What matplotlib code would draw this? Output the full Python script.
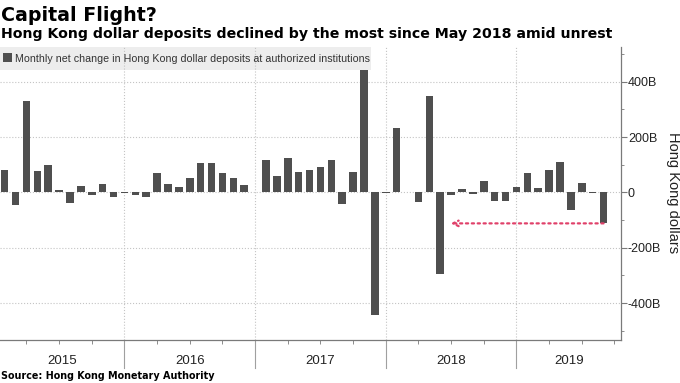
import numpy as np
import matplotlib.pyplot as plt
from matplotlib.ticker import FuncFormatter, MultipleLocator, FixedLocator
from matplotlib.patches import Rectangle

# monthly net change, HK$ billions, Jan 2015 .. Aug 2019
years = ['2015', '2016', '2017', '2018', '2019']
change_2015 = [81, -46, 330, 78, 98, 8, -40, 23, -11, 31, -16, -1]
change_2016 = [-8, -16, 71, 31, 19, 52, 108, 108, 71, 51, 27, 2]
change_2017 = [117, 60, 123, 73, 81, 92, 117, -42, 73, 442, -445, -1]
change_2018 = [234, 2, -34, 348, -296, -10, 14, -6, 43, -31, -31, 19]
change_2019 = [72, 16, 81, 111, -64, 33, -2, -112]
change_bn = change_2015 + change_2016 + change_2017 + change_2018 + change_2019

legend_txt = "Monthly net change in Hong Kong dollar deposits at authorized institutions"

x = np.arange(len(change_bn))
grey = '#4f4f4f'
axcol = '#7a7a7a'
plt.rcParams['font.family'] = ['Liberation Sans', 'DejaVu Sans']

fig = plt.figure(figsize=(6.8, 3.83), dpi=100)
ax = fig.add_axes([0, 43.5/383, 621/680, 292.8/383])

ax.bar(x, change_bn, width=0.69, color=grey, zorder=3)
ax.set_xlim(-0.43, 56.6)
ax.set_ylim(-532, 527)

for s in ['top', 'left']:
	ax.spines[s].set_visible(False)
for s in ['right', 'bottom']:
	ax.spines[s].set_color(axcol)
	ax.spines[s].set_linewidth(0.9)

# y axis on the right
ax.yaxis.tick_right()
ax.set_yticks([-400, -200, 0, 200, 400])
ax.yaxis.set_minor_locator(MultipleLocator(100))
ax.yaxis.set_major_formatter(FuncFormatter(lambda v, p: '0' if v == 0 else '%dB' % v))
ax.tick_params(axis='y', which='major', length=4, color=axcol, labelsize=9, labelcolor='#222222', pad=1)
ax.tick_params(axis='y', which='minor', length=2.5, color=axcol)
ax.grid(axis='y', which='major', linestyle=':', color='#c4c4c4', linewidth=0.8, zorder=1)

# x axis: quarter ticks, year dividers
ax.set_xticks([])
ax.xaxis.set_minor_locator(FixedLocator(np.arange(2, 57, 3)))
ax.tick_params(axis='x', which='minor', length=3, color=axcol)
dividers = [11, 23, 35, 47]
trans = ax.get_xaxis_transform()
for d in dividers:
	ax.axvline(d, linestyle=':', color='#c4c4c4', linewidth=0.8, zorder=1)
	ax.plot([d, d], [0, -0.097], transform=trans, clip_on=False, color='#a0a0a0', linewidth=0.8)
edges = [-0.43] + dividers + [56.6]
for i, yr in enumerate(years):
	ax.text((edges[i] + edges[i+1]) / 2, -0.075, yr, transform=trans, ha='center', va='center',
			fontsize=9.5, color='#222222')

# legend box
ax.add_patch(Rectangle((0, (339.5-70)/292.8), 371/621, 23/292.8, transform=ax.transAxes,
					   facecolor='#ededed', edgecolor='none', zorder=0.5))
ax.add_patch(Rectangle((3/621, (339.5-62)/292.8), 9/621, 9/292.8, transform=ax.transAxes,
					   facecolor=grey, edgecolor='none', zorder=4))
ax.text(15/621, (339.5-58.5)/292.8, legend_txt, transform=ax.transAxes, va='center', ha='left',
		fontsize=7.7, color='#333333', zorder=4)

# red dotted arrow, Aug 2019 back to May 2018
ax.annotate('', xy=(40.95, change_bn[-1]), xytext=(55, change_bn[-1]),
			arrowprops=dict(arrowstyle='->', color='#e0416a', linestyle=':', linewidth=1.6,
							shrinkA=0, shrinkB=0), zorder=5)

fig.text(673/680, 1 - 193/383, 'Hong Kong dollars', rotation=270, ha='center', va='center',
		 fontsize=10.5, color='#222222')

fig.text(0.002, 1 - 20.7/383, 'Capital Flight?', fontsize=13.7, fontweight='bold',
		 family='DejaVu Sans', va='baseline')
fig.text(0.002, 1 - 38.3/383, 'Hong Kong dollar deposits declined by the most since May 2018 amid unrest',
		 fontsize=10.15, fontweight='bold', family='DejaVu Sans', va='baseline')
fig.text(0.002, 1 - 379/383, 'Source: Hong Kong Monetary Authority', fontsize=6.95,
		 fontweight='bold', family='DejaVu Sans', va='baseline')

plt.savefig('out.png', dpi=100)
